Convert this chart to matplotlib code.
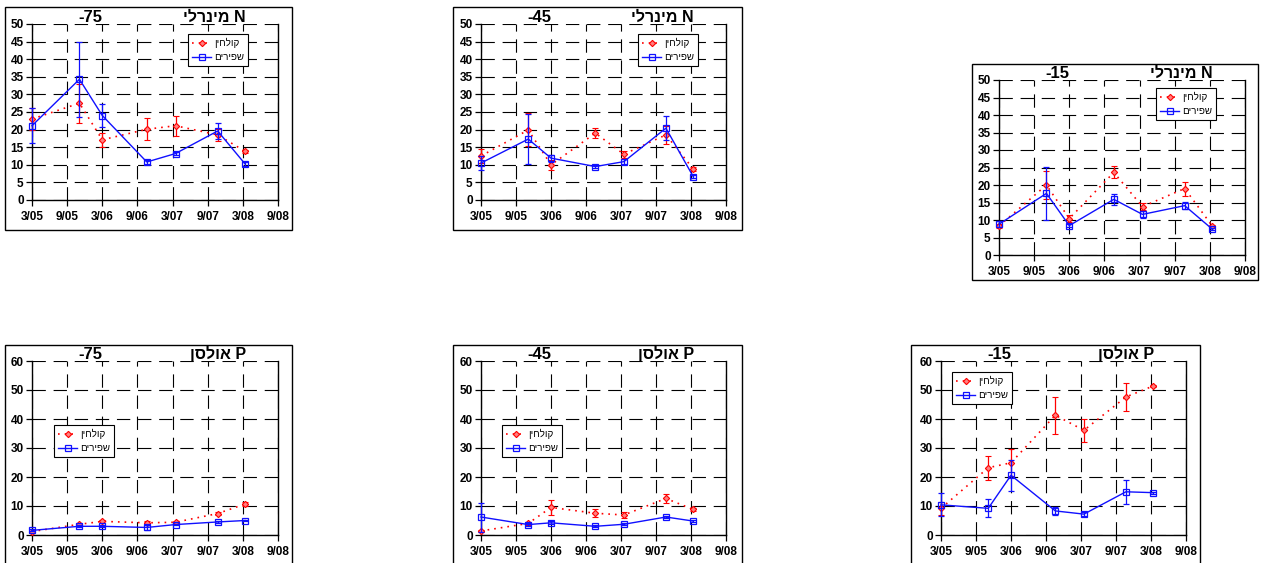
#!/usr/bin/env python3
"""Mineral N and Olsen P by depth: treated wastewater vs fresh water."""

import matplotlib

matplotlib.use("Agg")
import matplotlib.pyplot as plt
from matplotlib.lines import Line2D
from matplotlib.patches import Rectangle

plt.rcParams["font.family"] = ["Liberation Sans", "DejaVu Sans"]


def heb(s):
    # matplotlib has no bidi support: reverse Hebrew so it reads right-to-left
    return s[::-1]


# sampling dates as months since 3/05
MONTHS = [0.0, 8.1, 12.0, 19.6, 24.5, 31.7, 36.4]
XTICK_LABELS = ["3/05", "9/05", "3/06", "9/06", "3/07", "9/07", "3/08", "9/08"]
DEPTHS = ["-75", "-45", "-15"]

LABEL_WW = "קולחין"   # treated wastewater
LABEL_FW = "שפירים"   # fresh water
TITLE_N = "מינרלי"
TITLE_P = "אולסן"

# Mineral N
N75_WW = [23.0, 27.5, 17.1, 20.1, 21.1, 18.5, 13.8]
N75_WW_ERR = [3.0, 5.5, 2.0, 3.1, 2.9, 1.6, 0.5]
N75_FW = [21.1, 34.3, 24.0, 10.8, 13.2, 19.6, 10.2]
N75_FW_ERR = [5.0, 10.6, 3.4, 0.5, 0.5, 2.2, 0.5]

N45_WW = [12.5, 19.9, 10.0, 19.0, 13.0, 18.5, 8.8]
N45_WW_ERR = [2.0, 4.7, 1.5, 1.5, 1.0, 2.5, 0.5]
N45_FW = [10.5, 17.3, 11.9, 9.5, 10.9, 20.4, 6.6]
N45_FW_ERR = [2.1, 7.1, 1.0, 0.5, 0.8, 3.4, 0.4]

N15_WW = [8.3, 20.0, 10.4, 23.6, 13.8, 19.0, 8.3]
N15_WW_ERR = [0.5, 4.0, 1.0, 1.7, 1.0, 2.0, 0.3]
N15_FW = [8.8, 17.6, 8.4, 15.9, 11.6, 14.1, 7.4]
N15_FW_ERR = [0.8, 7.5, 0.5, 1.5, 1.0, 1.0, 0.3]

# Olsen P
P75_WW = [1.2, 3.7, 4.7, 4.2, 4.4, 7.4, 10.7]
P75_WW_ERR = [0.3, 0.5, 0.5, 0.5, 0.4, 0.6, 0.6]
P75_FW = [1.6, 3.0, 3.0, 2.6, 3.6, 4.5, 5.0]
P75_FW_ERR = [0.3, 0.3, 0.3, 0.8, 0.3, 0.4, 0.3]

P45_WW = [1.4, 4.0, 9.5, 7.5, 6.9, 12.6, 8.8]
P45_WW_ERR = [0.3, 0.5, 2.6, 1.3, 1.0, 1.5, 0.4]
P45_FW = [6.2, 3.6, 4.2, 3.0, 3.7, 6.2, 4.8]
P45_FW_ERR = [5.0, 0.5, 0.5, 0.3, 0.4, 0.5, 0.3]

P15_WW = [9.2, 23.2, 24.9, 41.3, 36.1, 47.6, 51.4]
P15_WW_ERR = [2.3, 4.1, 4.6, 6.3, 4.0, 4.8, 0.3]
P15_FW = [10.4, 9.2, 20.6, 8.3, 7.2, 14.9, 14.6]
P15_FW_ERR = [4.0, 3.1, 5.3, 1.3, 0.8, 4.2, 0.4]

W, H = 1262, 563

# (axes box px, frame box px, legend top-left px, data, ymax, ystep, title, depth)
PANELS = [
    ((32, 24, 278, 200), (5, 7, 292, 230), (188, 34),
     (N75_WW, N75_WW_ERR, N75_FW, N75_FW_ERR), 50, 5, (TITLE_N, "N"), DEPTHS[0]),
    ((481, 24, 726, 200), (453, 7, 742, 230), (638, 34),
     (N45_WW, N45_WW_ERR, N45_FW, N45_FW_ERR), 50, 5, (TITLE_N, "N"), DEPTHS[1]),
    ((999, 80, 1245, 255), (972, 64, 1258, 280), (1156, 88),
     (N15_WW, N15_WW_ERR, N15_FW, N15_FW_ERR), 50, 5, (TITLE_N, "N"), DEPTHS[2]),
    ((32, 361, 278, 535), (5, 345, 292, 600), (54, 425),
     (P75_WW, P75_WW_ERR, P75_FW, P75_FW_ERR), 60, 10, (TITLE_P, "P"), DEPTHS[0]),
    ((481, 361, 726, 535), (453, 345, 742, 600), (502, 425),
     (P45_WW, P45_WW_ERR, P45_FW, P45_FW_ERR), 60, 10, (TITLE_P, "P"), DEPTHS[1]),
    ((941, 361, 1186, 535), (911, 345, 1200, 600), (952, 372),
     (P15_WW, P15_WW_ERR, P15_FW, P15_FW_ERR), 60, 10, (TITLE_P, "P"), DEPTHS[2]),
]

WW_STYLE = dict(color="red", linestyle=(0, (1, 3)), linewidth=1.2, marker="D",
                markersize=3.2, markerfacecolor="#ff8080", markeredgecolor="red",
                markeredgewidth=0.8)
FW_STYLE = dict(color="#1010ff", linestyle="-", linewidth=1.0, marker="s",
                markersize=5, markerfacecolor="none", markeredgecolor="#1010ff",
                markeredgewidth=0.9)


def main():
    fig = plt.figure(figsize=(W / 100, H / 100), dpi=100)

    for axbox, frame, legpos, data, ymax, ystep, title, depth in PANELS:
        x0, y0, x1, y1 = frame
        fig.patches.append(Rectangle((x0 / W, 1 - y1 / H), (x1 - x0) / W, (y1 - y0) / H,
                                     transform=fig.transFigure, fill=False,
                                     edgecolor="black", linewidth=1.0, zorder=0))

        l, t, r, b = axbox
        ax = fig.add_axes([l / W, 1 - b / H, (r - l) / W, (b - t) / H])
        ww, ww_err, fw, fw_err = data

        ax.errorbar(MONTHS, ww, yerr=ww_err, elinewidth=0.9, ecolor="red",
                    capsize=2, capthick=0.9, clip_on=False, zorder=3, **WW_STYLE)
        ax.errorbar(MONTHS, fw, yerr=fw_err, elinewidth=0.9, ecolor="#1010ff",
                    capsize=2, capthick=0.9, clip_on=False, zorder=4, **FW_STYLE)

        ax.set_xlim(0, 42)
        ax.set_ylim(0, ymax)
        ax.set_xticks(range(0, 43, 6))
        ax.set_xticklabels(XTICK_LABELS)
        ax.set_yticks(range(0, ymax + 1, ystep))
        ax.tick_params(direction="out", length=4, width=0.9, labelsize=8.5)
        ax.tick_params(axis="x", pad=4)
        ax.tick_params(axis="y", pad=2)
        for lab in ax.get_xticklabels() + ax.get_yticklabels():
            lab.set_fontweight("bold")
        ax.grid(True, color="black", linewidth=0.8, linestyle=(0, (12, 7)))
        ax.set_axisbelow(True)
        ax.spines["top"].set_visible(False)
        for s in ("left", "bottom", "right"):
            ax.spines[s].set_linewidth(1.0)

        # titles sit right on top of the plot area
        fig.text((l + 58) / W, 1 - (t + 1) / H, depth, ha="center", va="bottom",
                 fontsize=12, fontweight="bold")
        fig.text((r - 32) / W, 1 - (t + 1) / H, heb(title[0]) + " " + title[1],
                 ha="right", va="bottom", fontsize=11.5, fontweight="bold")

        handles = [Line2D([], [], **WW_STYLE), Line2D([], [], **FW_STYLE)]
        lx, ly = legpos
        leg = ax.legend(handles, [heb(LABEL_WW), heb(LABEL_FW)], loc="upper left",
                        bbox_to_anchor=(lx / W, 1 - ly / H),
                        bbox_transform=fig.transFigure, fontsize=7, frameon=True,
                        fancybox=False, borderpad=0.4, handlelength=2.0,
                        handletextpad=0.3, labelspacing=0.45, borderaxespad=0,
                        framealpha=1)
        leg.get_frame().set_edgecolor("black")
        leg.get_frame().set_linewidth(0.8)

    fig.savefig("out.png", dpi=100)


if __name__ == "__main__":
    main()
